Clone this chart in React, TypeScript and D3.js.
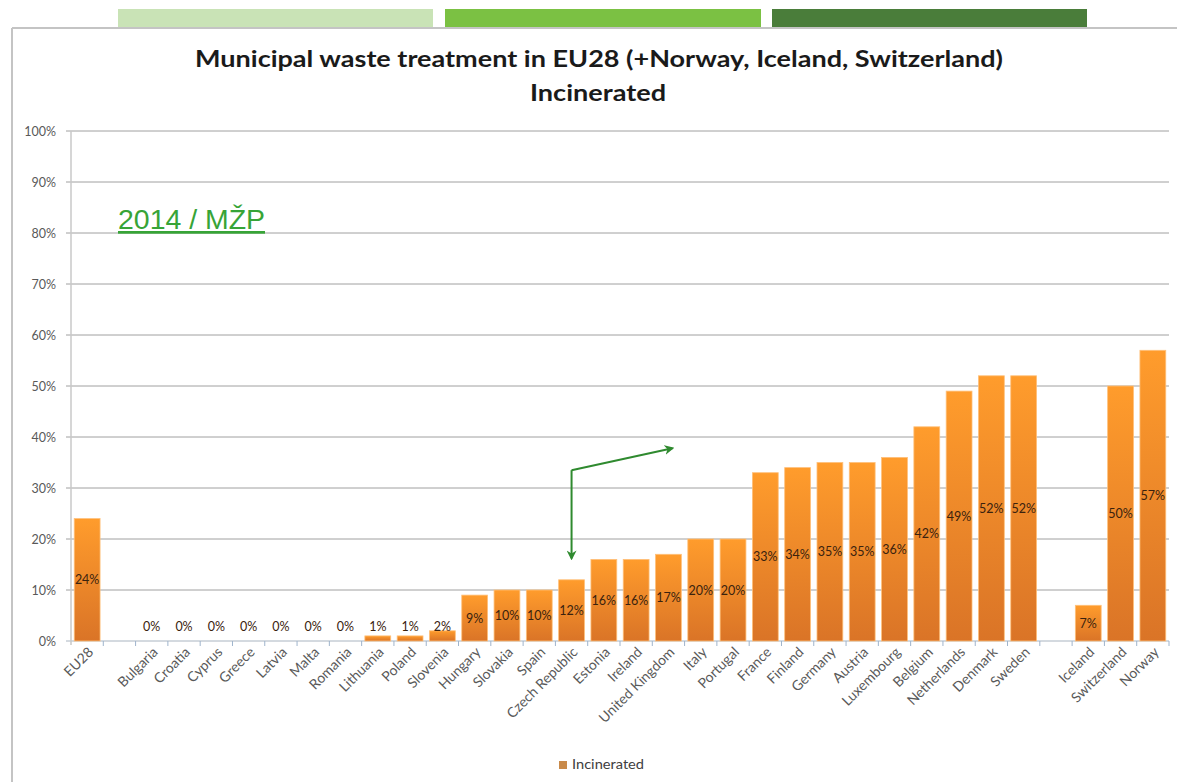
import React from "react";
import * as d3 from "d3";

const categories: string[] = [
  "EU28", "", "Bulgaria", "Croatia", "Cyprus", "Greece", "Latvia", "Malta", "Romania",
  "Lithuania", "Poland", "Slovenia", "Hungary", "Slovakia", "Spain", "Czech Republic",
  "Estonia", "Ireland", "United Kingdom", "Italy", "Portugal", "France", "Finland",
  "Germany", "Austria", "Luxembourg", "Belgium", "Netherlands", "Denmark", "Sweden",
  "", "Iceland", "Switzerland", "Norway",
];
const incinerated: (number | null)[] = [
  24, null, 0, 0, 0, 0, 0, 0, 0,
  1, 1, 2, 9, 10, 10, 12,
  16, 16, 17, 20, 20, 33, 34,
  35, 35, 36, 42, 49, 52, 52,
  null, 7, 50, 57,
];
const yTicks: number[] = [0, 10, 20, 30, 40, 50, 60, 70, 80, 90, 100];
const titleLines: string[] = [
  "Municipal waste treatment in EU28 (+Norway, Iceland, Switzerland)",
  "Incinerated",
];
const seriesName = "Incinerated";
const annotation = "2014 / MŽP";
const arrowFrom = "Czech Republic";

const W = 1177;
const H = 782;
const left = 71;
const right = 1169;
const top = 131;
const bottom = 641;

export default function App() {
  const x = d3
    .scaleBand<number>()
    .domain(categories.map((_, i) => i))
    .range([left, right])
    .paddingInner(0.2)
    .paddingOuter(0.1);
  const y = d3.scaleLinear().domain([0, 100]).range([bottom, top]);
  const step = x.step();
  const slotStart = (i: number) => left + i * step;

  const font = "Lato, 'Open Sans', sans-serif";
  const ci = categories.indexOf(arrowFrom);
  const ax = x(ci)! + x.bandwidth() / 2;
  const cornerY = y(33.5);
  const downTip = y(16.2);
  const rightTipX = x(ci + 3)! + x.bandwidth() / 2 + 4;
  const rightTipY = y(37.8);

  return (
    <svg
      width={W}
      height={H}
      style={{ position: "absolute", left: 0, top: 0, background: "#fff" }}
    >
      <defs>
        <linearGradient id="barGrad" x1="0" y1="0" x2="0" y2="1">
          <stop offset="0%" stopColor="#ff9c2c" />
          <stop offset="100%" stopColor="#da7427" />
        </linearGradient>
        <marker
          id="arrowHead"
          viewBox="0 0 10 10"
          refX="8"
          refY="5"
          markerWidth="5"
          markerHeight="5"
          orient="auto"
        >
          <path d="M0,0 L10,5 L0,10 L3,5 Z" fill="#2f8a2f" />
        </marker>
      </defs>

      {/* decorative top bands */}
      <rect x={118} y={9} width={315} height={18} fill="#c9e3b6" />
      <rect x={445} y={9} width={316} height={18} fill="#7bc143" />
      <rect x={772} y={9} width={315} height={18} fill="#4a7d3a" />

      {/* chart frame */}
      <line x1={12} y1={28} x2={W} y2={28} stroke="#c4c4c4" strokeWidth={2} />
      <line x1={12} y1={28} x2={12} y2={H} stroke="#c4c4c4" strokeWidth={2} />

      {/* title */}
      <text
        x={195}
        y={67}
        textLength={808}
        lengthAdjust="spacingAndGlyphs"
        fontFamily={font}
        fontWeight={700}
        fontSize={23.5}
        fill="#1a1a1a"
      >
        {titleLines[0]}
      </text>
      <text
        x={530}
        y={101}
        textLength={136}
        lengthAdjust="spacingAndGlyphs"
        fontFamily={font}
        fontWeight={700}
        fontSize={23.5}
        fill="#1a1a1a"
      >
        {titleLines[1]}
      </text>

      {/* gridlines and y axis */}
      {yTicks.map((t) => (
        <g key={t}>
          <line
            x1={left - 5}
            x2={right}
            y1={y(t)}
            y2={y(t)}
            stroke={t === 0 ? "#a9b4c0" : "#a0a0a0"}
            strokeWidth={1}
          />
          <text
            x={56}
            y={y(t) + 4.5}
            textAnchor="end"
            fontFamily={font}
            fontSize={12.5}
            fill="#595959"
          >
            {t + "%"}
          </text>
        </g>
      ))}
      <line x1={left} x2={left} y1={top} y2={bottom + 4} stroke="#c8c8c8" strokeWidth={1.5} />

      {/* x ticks */}
      {categories.map((_, i) => (
        <line
          key={"t" + i}
          x1={slotStart(i + 1)}
          x2={slotStart(i + 1)}
          y1={bottom}
          y2={bottom + 5}
          stroke="#9fb4cc"
          strokeWidth={1}
        />
      ))}

      {/* bars */}
      {incinerated.map((v, i) =>
        v === null ? null : (
          <rect
            key={"b" + i}
            x={x(i)!}
            y={y(v)}
            width={x.bandwidth()}
            height={bottom - y(v)}
            fill="url(#barGrad)"
            stroke="#ffc07a"
            strokeWidth={0.8}
          />
        )
      )}

      {/* data labels */}
      {incinerated.map((v, i) =>
        v === null ? null : (
          <text
            key={"l" + i}
            x={x(i)! + x.bandwidth() / 2}
            y={Math.min((y(v) + bottom) / 2, bottom - 15) + 4.5}
            textAnchor="middle"
            fontFamily={font}
            fontSize={12.5}
            fill="#3a220e"
          >
            {v + "%"}
          </text>
        )
      )}

      {/* category labels */}
      {categories.map((c, i) =>
        c === "" ? null : (
          <text
            key={"c" + i}
            transform={`translate(${x(i)! + x.bandwidth() / 2 + 7},${bottom + 12}) rotate(-45)`}
            textAnchor="end"
            fontFamily={font}
            fontSize={14}
            fill="#595959"
          >
            {c}
          </text>
        )
      )}

      {/* annotation */}
      <text
        x={118}
        y={229}
        textLength={147}
        lengthAdjust="spacingAndGlyphs"
        fontFamily="'Liberation Sans', Arial, sans-serif"
        fontSize={27}
        fill="#37a437"
        textDecoration="underline"
      >
        {annotation}
      </text>

      {/* arrows */}
      <line
        x1={ax}
        y1={cornerY}
        x2={ax}
        y2={downTip}
        stroke="#2f8a2f"
        strokeWidth={2}
        markerEnd="url(#arrowHead)"
      />
      <line
        x1={ax}
        y1={cornerY}
        x2={rightTipX}
        y2={rightTipY}
        stroke="#2f8a2f"
        strokeWidth={2}
        markerEnd="url(#arrowHead)"
      />

      {/* legend */}
      <rect x={559} y={761} width={8} height={8} fill="#c98a4a" />
      <text
        x={572}
        y={769}
        textLength={72}
        lengthAdjust="spacingAndGlyphs"
        fontFamily={font}
        fontSize={12.5}
        fill="#404040"
      >
        {seriesName}
      </text>
    </svg>
  );
}
